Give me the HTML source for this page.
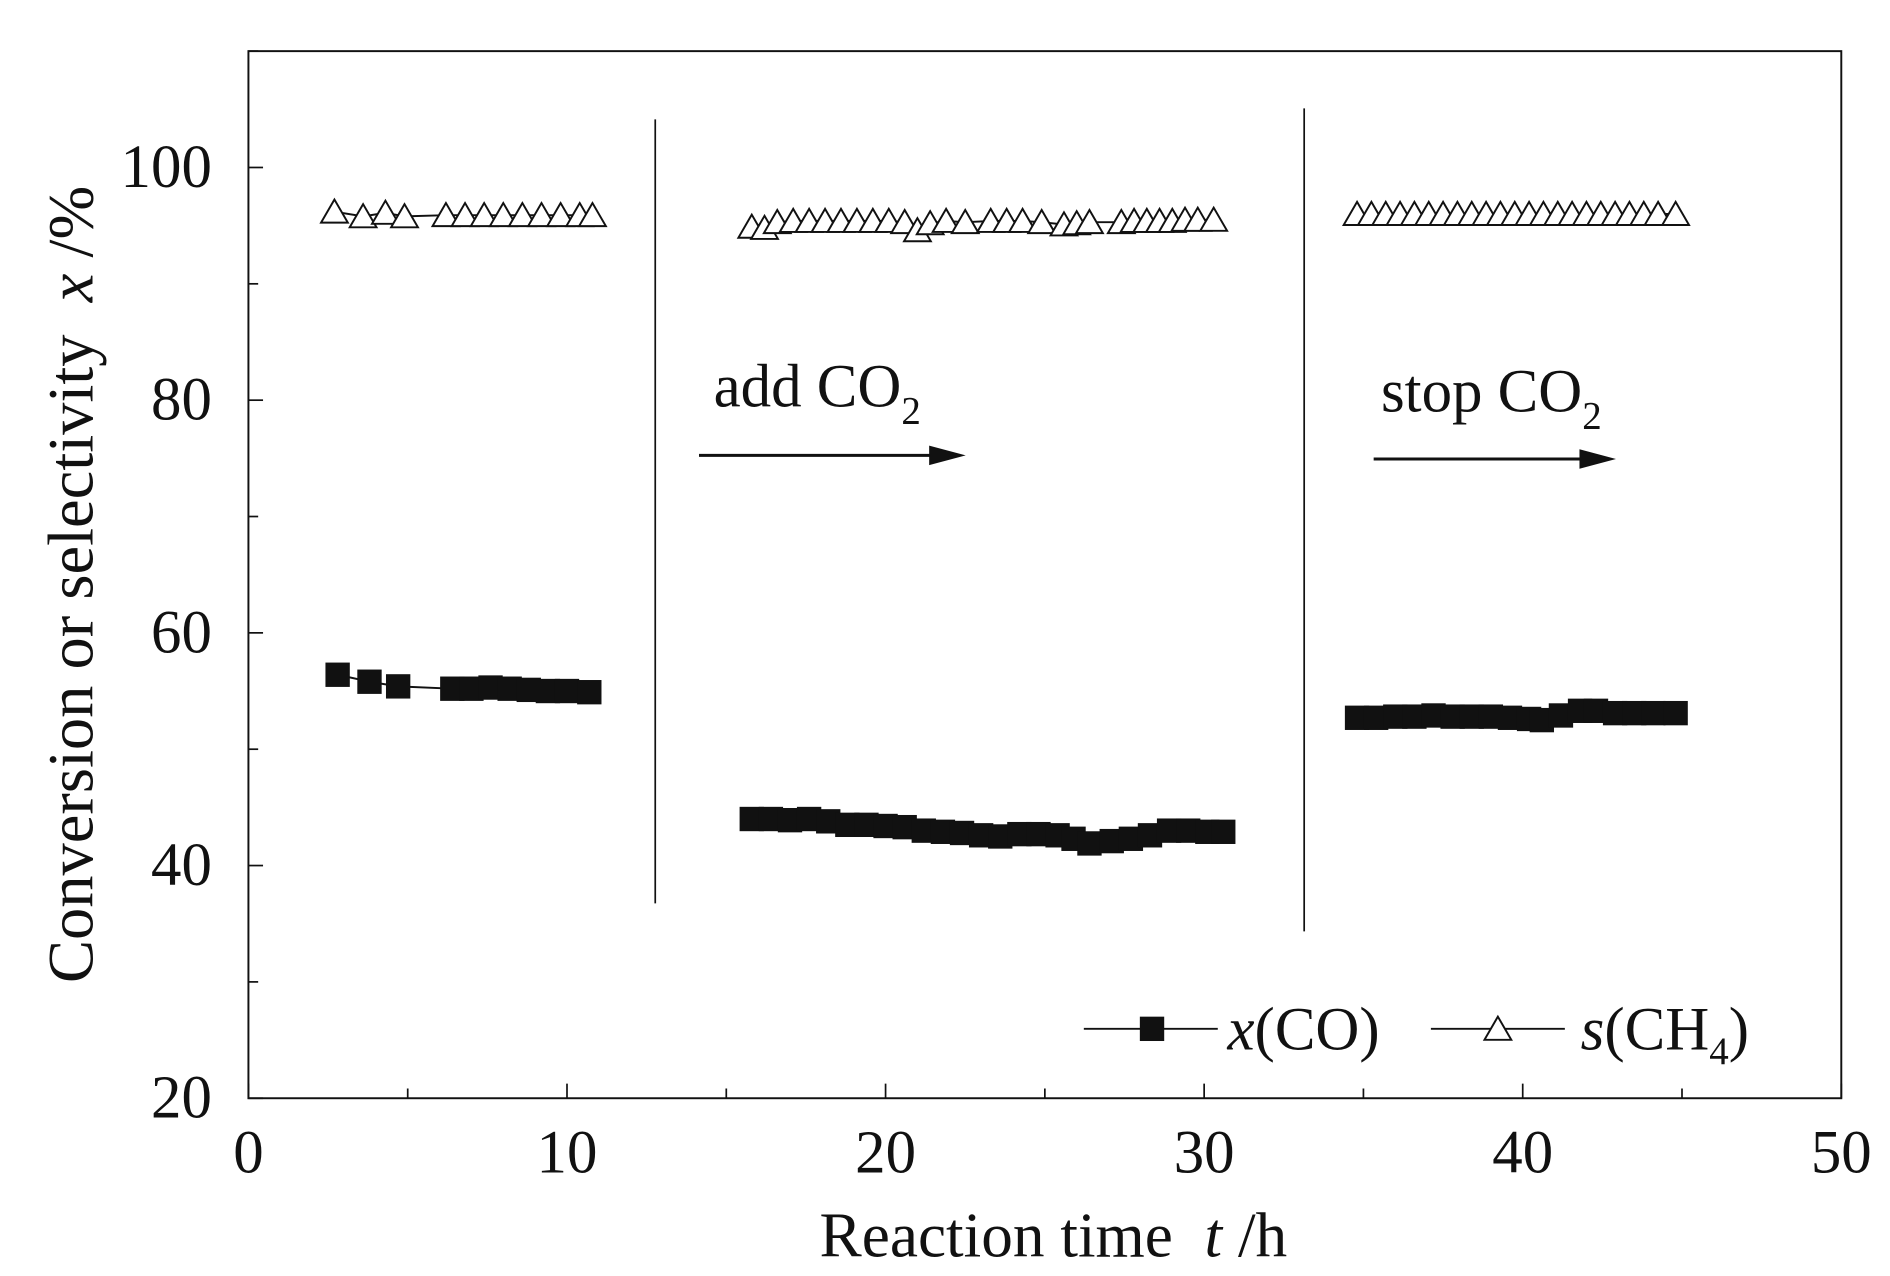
<!DOCTYPE html>
<html><head><meta charset="utf-8">
<style>
html,body{margin:0;padding:0;background:#fff;}
svg{display:block;}
text{font-family:"Liberation Serif",serif;fill:#111;}
</style></head>
<body>
<svg id="chart" width="1890" height="1276" viewBox="0 0 1552 1048" preserveAspectRatio="none" xmlns="http://www.w3.org/2000/svg">
<rect x="0" y="0" width="1552" height="1048" fill="#fff"/>
<g id="plot"></g>
</svg>
<script>
const xTicks = [0,10,20,30,40,50];
const yTicks = [20,40,60,80,100];
const coT1 = [2.8,3.8,4.7,6.4,7.0,7.6,8.2,8.8,9.4,10.0,10.7];
const coV1 = [56.4,55.8,55.4,55.2,55.2,55.3,55.2,55.1,55.0,55.0,54.9];
const coT2 = [15.8,16.4,17.0,17.6,18.2,18.8,19.4,20.0,20.6,21.2,21.8,22.4,23.0,23.6,24.2,24.8,25.4,25.9,26.4,27.1,27.7,28.3,28.9,29.5,30.1,30.6];
const coV2 = [44.0,44.0,43.9,44.0,43.8,43.5,43.5,43.4,43.3,43.0,42.9,42.8,42.6,42.5,42.7,42.7,42.6,42.3,41.9,42.1,42.3,42.6,43.0,43.0,42.9,42.9];
const coT3 = [34.8,35.4,36.0,36.6,37.2,37.8,38.4,39.0,39.6,40.2,40.6,41.2,41.8,42.3,42.9,43.5,44.1,44.8];
const coV3 = [52.7,52.7,52.8,52.8,52.9,52.8,52.8,52.8,52.7,52.6,52.5,52.9,53.3,53.3,53.1,53.1,53.1,53.1];
const chT1 = [2.7,3.6,4.3,4.9,6.2,6.8,7.4,8.0,8.6,9.2,9.8,10.4,10.8];
const chV1 = [96.2,95.8,96.1,95.8,95.9,95.9,95.9,95.9,95.9,95.9,95.9,95.9,95.9];
const chT2 = [15.8,16.2,16.6,17.1,17.6,18.1,18.6,19.1,19.6,20.1,20.6,21.0,21.4,21.9,22.5,23.3,23.8,24.3,24.9,25.6,26.0,26.4,27.4,27.8,28.2,28.6,29.0,29.4,29.8,30.3];
const chV2 = [94.9,94.8,95.3,95.4,95.4,95.4,95.4,95.4,95.4,95.4,95.3,94.6,95.2,95.4,95.3,95.4,95.4,95.4,95.3,95.1,95.2,95.3,95.3,95.4,95.4,95.4,95.4,95.5,95.5,95.5];
const chT3 = [34.8,35.25,35.7,36.15,36.6,37.05,37.5,37.95,38.4,38.85,39.3,39.75,40.2,40.65,41.1,41.55,42.0,42.45,42.9,43.35,43.8,44.25,44.8];
const chV3 = [96.0,96.0,96.0,96.0,96.0,96.0,96.0,96.0,96.0,96.0,96.0,96.0,96.0,96.0,96.0,96.0,96.0,96.0,96.0,96.0,96.0,96.0,96.0];
const divT = [12.77,33.14];

const L=204,R=1512,T=42,B=902,X0=0,X1=50,Y0=20,Y1=110;
const sx=t=>L+(t-X0)/(X1-X0)*(R-L);
const sy=v=>B-(v-Y0)/(Y1-Y0)*(B-T);
const NS="http://www.w3.org/2000/svg";
const g=document.getElementById('plot');
function mk(tag,attrs,parent){const e=document.createElementNS(NS,tag);for(const k in attrs)e.setAttribute(k,attrs[k]);(parent||g).appendChild(e);return e;}

let fr=mk('rect',{x:L,y:T,width:R-L,height:B-T,fill:'none',stroke:'#111','stroke-width':1.6});


for(let t=0;t<=50;t+=5){
  const len=(t%10===0)?12:8;
  const tk=mk('line',{x1:sx(t),x2:sx(t),y1:B,y2:B-len,stroke:'#111','stroke-width':1.4});
  
  
}
xTicks.forEach(t=>{
  const tx=mk('text',{x:sx(t),y:963,'text-anchor':'middle','font-size':50});
  tx.textContent=t;
  
  
});
for(let v=20;v<=110;v+=10){
  const len=(v%20===0)?12:8;
  const tk=mk('line',{x1:L,x2:L+len,y1:sy(v),y2:sy(v),stroke:'#111','stroke-width':1.4});
  
  
}
yTicks.forEach(v=>{
  const tx=mk('text',{x:174,y:sy(v)+16,'text-anchor':'end','font-size':50});
  tx.textContent=v;
  
  
});
let xt=mk('text',{x:865,y:1032,'text-anchor':'middle','font-size':52});
xt.innerHTML='Reaction time&#160;&#160;<tspan font-style="italic">t</tspan> /h';


let yt=mk('text',{x:0,y:0,'text-anchor':'middle','font-size':53,transform:'translate(76,480) rotate(-90)'});
yt.innerHTML='Conversion or selectivity&#160;&#160;<tspan font-style="italic">x</tspan> /%';


const divTops=[98,89],divBots=[742,765];
divT.forEach((t,i)=>{
  const l=mk('line',{x1:sx(t),x2:sx(t),y1:divTops[i],y2:divBots[i],stroke:'#111','stroke-width':1.4});
  
  
});
function series(ts,vs,kind,name){
  const pts=ts.map((t,i)=>sx(t)+','+sy(vs[i])).join(' ');
  const pl=mk('polyline',{points:pts,fill:'none',stroke:'#111','stroke-width':1.6});
  
  
  ts.forEach((t,i)=>{
    const x=sx(t),y=sy(vs[i]);
    let m;
    if(kind==='sq'){m=mk('rect',{x:x-10,y:y-10,width:20,height:20,fill:'#111'});}
    else{m=mk('polygon',{points:`${x},${y-10} ${x-11},${y+9} ${x+11},${y+9}`,fill:'#fff',stroke:'#111','stroke-width':1.6});}
    
    
  });
}
series(coT1,coV1,'sq','x-co');series(coT2,coV2,'sq','x-co');series(coT3,coV3,'sq','x-co');
series(chT1,chV1,'tri','s-ch4');series(chT2,chV2,'tri','s-ch4');series(chT3,chV3,'tri','s-ch4');
function ann(txt,x,y,ax1,ax2,ay,name){
  const t=mk('text',{x:x,y:y,'font-size':50});
  t.innerHTML=txt+' CO<tspan font-size="32" dy="14">2</tspan>';
  
  
  const l=mk('line',{x1:ax1,x2:ax2-28,y1:ay,y2:ay,stroke:'#111','stroke-width':2.5});
  
  
  const h=mk('polygon',{points:`${ax2},${ay} ${ax2-30},${ay-8} ${ax2-30},${ay+8}`,fill:'#111'});
  
  
}
ann('add',586,334,574,793,374,'add-co2');
ann('stop',1134,338,1128,1327,377,'stop-co2');
const lg=mk('g',{});


let l1=mk('line',{x1:890,x2:1000,y1:845,y2:845,stroke:'#111','stroke-width':1.6},lg);


let s1=mk('rect',{x:936,y:835,width:20,height:20,fill:'#111'},lg);


let t1=mk('text',{x:1008,y:862,'font-size':50},lg);
t1.innerHTML='<tspan font-style="italic">x</tspan>(CO)';


let l2=mk('line',{x1:1175,x2:1285,y1:845,y2:845,stroke:'#111','stroke-width':1.6},lg);


let s2=mk('polygon',{points:'1230,835 1219,854 1241,854',fill:'#fff',stroke:'#111','stroke-width':1.6},lg);


let t2=mk('text',{x:1298,y:862,'font-size':50},lg);
t2.innerHTML='<tspan font-style="italic">s</tspan>(CH<tspan font-size="32" dy="12">4</tspan><tspan dy="-12">)</tspan>';


</script>
</body></html>
